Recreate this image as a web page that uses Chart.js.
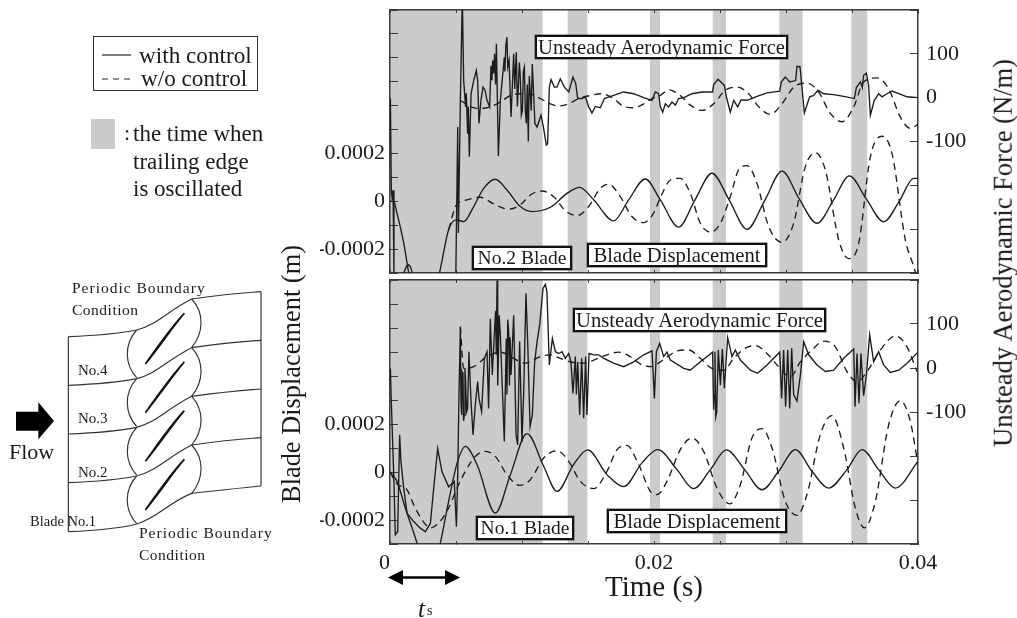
<!DOCTYPE html>
<html><head><meta charset="utf-8">
<script src="https://cdn.jsdelivr.net/npm/chart.js@4"></script>
<style>
html,body{margin:0;padding:0;background:#fff;overflow:hidden}
#page{position:relative;width:1017px;height:618px;font-family:"Liberation Serif",serif;color:#1a1a1a;filter:blur(0.35px)}
canvas{position:absolute}
.t{position:absolute;white-space:nowrap;line-height:1}
.box{position:absolute;box-sizing:border-box;background:#fff;border:2px solid #111;box-shadow:0 0 0 .5px #555;display:flex;align-items:center;justify-content:center;white-space:nowrap;font-size:20.7px;z-index:5}
.rot{position:absolute;white-space:nowrap;line-height:1;transform:translate(-50%,-50%) rotate(-90deg)}
svg{position:absolute}
</style></head><body>
<div id="page">
<canvas id="top" width="697" height="277" style="left:320px;top:0"></canvas>
<canvas id="bot" width="697" height="341" style="left:320px;top:277px"></canvas>

<div class="box" style="left:535px;top:35px;width:253px;height:24px">Unsteady Aerodynamic Force</div>
<div class="box" style="left:472px;top:246px;width:100px;height:24px;font-size:19.5px">No.2 Blade</div>
<div class="box" style="left:587px;top:243px;width:180px;height:24px">Blade Displacement</div>
<div class="box" style="left:573px;top:308px;width:253px;height:24px">Unsteady Aerodynamic Force</div>
<div class="box" style="left:476px;top:516px;width:98px;height:24px;font-size:19.5px">No.1 Blade</div>
<div class="box" style="left:607px;top:509px;width:180px;height:24px">Blade Displacement</div>

<div class="rot" style="left:291px;top:374px;font-size:26.4px">Blade Displacement (m)</div>
<div class="rot" style="left:1003px;top:253px;font-size:26.5px">Unsteady Aerodynamic Force (N/m)</div>
<div class="t" style="left:605px;top:572px;font-size:29px">Time (s)</div>

<div style="position:absolute;left:93px;top:36px;width:165px;height:55px;box-sizing:border-box;border:1.5px solid #333"></div>
<div class="t" style="left:139px;top:44px;font-size:23.2px">with control</div>
<div class="t" style="left:141px;top:67px;font-size:23.2px">w/o control</div>
<div style="position:absolute;left:91px;top:119px;width:24px;height:30px;background:#cbcbcb"></div>
<div class="t" style="left:124px;top:122px;font-size:22px">:</div>
<div class="t" style="left:133px;top:122px;font-size:23px">the time when</div>
<div class="t" style="left:133px;top:150px;font-size:23px">trailing edge</div>
<div class="t" style="left:133px;top:177px;font-size:23px">is oscillated</div>

<svg style="left:0;top:0" width="1017" height="618" viewBox="0 0 1017 618">
  <line x1="102" y1="55" x2="131" y2="55" stroke="#222" stroke-width="1.2"/>
  <line x1="102" y1="79" x2="131" y2="79" stroke="#222" stroke-width="1.2" stroke-dasharray="6 5"/>
  <line x1="396" y1="577.5" x2="452" y2="577.5" stroke="#000" stroke-width="2.5"/>
  <polygon points="388,577.5 403,570 403,585" fill="#000"/>
  <polygon points="460,577.5 445,570 445,585" fill="#000"/>
</svg>
<div class="t" style="left:418px;top:596px;font-size:25px;font-style:italic">t</div>
<div class="t" style="left:427px;top:604px;font-size:14px">s</div>

<svg style="left:0;top:270px" width="290" height="310" viewBox="0 0 870 930">
  <defs>
    <g id="cell" fill="none" stroke="#333" stroke-width="3.5">
      <path d="M410,180 C370,225 375,285 410,323"/>
      <path d="M575,87 C615,130 610,190 575,233"/>
      <path d="M205,200 C280,197 360,190 410,180 C470,165 500,125 575,87 C640,78 710,70 783,65"/>
      <path d="M436,282 C470,235 510,175 553,130 C515,175 475,235 436,282 Z" fill="#111" stroke="#111" stroke-width="5"/>
    </g>
  </defs>
  <use href="#cell"/><use href="#cell" y="146"/><use href="#cell" y="292"/><use href="#cell" y="438"/>
  <path d="M205,785 C280,782 360,775 410,762 C470,745 510,695 575,670 C640,663 710,655 783,648" fill="none" stroke="#333" stroke-width="3.5"/>
  <path d="M205,200 L205,785 M783,65 L783,648" fill="none" stroke="#333" stroke-width="3.5"/>
  <polygon points="48,425 115,425 115,397 162,453 115,508 115,482 48,482" fill="#000"/>
</svg>
<div class="t" style="left:9px;top:441px;font-size:22px">Flow</div>
<div class="t" style="left:78px;top:363px;font-size:15px">No.4</div>
<div class="t" style="left:78px;top:411px;font-size:15px">No.3</div>
<div class="t" style="left:78px;top:465px;font-size:15px">No.2</div>
<div class="t" style="left:30px;top:514px;font-size:14.5px">Blade No.1</div>
<div class="t" style="left:72px;top:280px;font-size:15.5px;letter-spacing:1px">Periodic Boundary</div>
<div class="t" style="left:72px;top:302px;font-size:15.5px;letter-spacing:.5px">Condition</div>
<div class="t" style="left:139px;top:525px;font-size:15.5px;letter-spacing:1px">Periodic Boundary</div>
<div class="t" style="left:139px;top:547px;font-size:15.5px;letter-spacing:.5px">Condition</div>
</div>
<script>
// time in ms, displacement in 1e-4 m, force in N/m
const bandStarts = [0, 13.46, 19.7, 24.45, 29.5, 34.95];
const bandEnds = [11.56, 14.95, 20.45, 25.45, 31.26, 36.16];
const topDispWith = [[0,0],[.28,-.01],[.53,-.5],[1.04,-1.75],[1.41,-2.97],[1.8,-4.1],[2.6,-4.6],[3.2,-4.1],[3.76,-2.97],[4.44,-1.19],[5.03,-.78],[5.58,-.85],[6.34,-.22],[7.1,.54],[7.98,.92],[8.86,.47],[9.87,-.22],[10.76,-.43],[12.15,-.25],[13.41,.33],[14.37,.58],[15.43,.06],[16.94,-.82],[18.08,.06],[19.34,.93],[20.48,.06],[21.87,-1.08],[23.1,.05],[24.39,1.17],[25.7,.05],[27.05,-1.17],[28.4,.05],[29.7,1.26],[31,.1],[32.35,-.92],[33.6,.05],[34.8,1.06],[36.1,.08],[37.4,-.86],[38.6,.02],[39.67,.96],[40,.96]];
const topDispWo = [[4.44,-1.19],[5.03,-.15],[5.83,.06],[6.84,.17],[7.85,-.11],[8.99,-.33],[9.87,-.15],[10.63,.26],[11.52,.43],[12.4,.19],[13.28,-.39],[14.17,-.6],[15.05,-.22],[15.93,.54],[16.57,.71],[17.45,.19],[18.33,-.64],[19.22,-.89],[19.97,-.5],[20.48,.15],[21.24,.89],[21.99,.96],[22.75,.33],[23.51,-.92],[24.27,-1.29],[25.03,-.92],[25.78,.19],[26.41,1.31],[27.05,1.49],[27.8,.75],[28.69,-1.06],[29.7,-1.72],[30.58,-.92],[31.46,1.44],[32.22,2.03],[32.98,1.31],[33.99,-1.61],[34.75,-2.4],[35.51,-1.75],[36.39,1.86],[37.27,2.72],[38.03,2],[39.04,-1.61],[39.8,-2.97],[40,-3.5]];
const topForceWith = [[.03,-2],[.1,-211],[.18,-234],[.23,-211],[.3,-400],[.6,-450],[1.09,-396],[1.24,-385],[1.39,-381],[1.54,-385],[1.67,-398],[1.8,-445],[4.97,-445],[5.13,-67],[5.18,-309],[5.33,-6],[5.48,229],[5.58,39],[5.73,-21],[5.78,10],[5.88,-82],[5.93,-20],[6.01,-135],[6.14,9],[6.34,39],[6.54,62],[6.64,39],[6.74,-59],[6.89,-6],[7.05,24],[7.2,17],[7.35,-6],[7.55,-21],[7.65,73],[7.72,40],[7.78,85],[7.85,55],[7.92,100],[8,30],[8.06,123],[8.21,-133],[8.36,-6],[8.66,92],[8.7,60],[8.78,120],[8.86,138],[8.92,70],[9.02,85],[9.17,-44],[9.37,100],[9.45,20],[9.57,104],[9.65,-20],[9.72,24],[9.8,80],[9.87,47],[9.95,-40],[10.03,-29],[10.1,60],[10.18,70],[10.25,-30],[10.33,-59],[10.4,30],[10.48,-100],[10.55,50],[10.63,9],[10.7,-30],[10.78,77],[10.98,-59],[11.14,-67],[11.44,-40],[11.64,-70],[11.84,-108],[11.94,-105],[12.07,24],[12.2,41],[12.45,24],[12.65,24],[12.9,43],[13.21,24],[13.54,13],[13.86,47],[14.07,32],[14.22,-2],[14.55,-2],[14.8,2],[15.05,-21],[15.3,-35],[15.56,-20],[15.93,-23],[16.24,-2],[16.94,5],[17.7,13],[18.46,9],[19.22,0],[19.85,-6],[20.1,13],[20.35,9],[20.48,-21],[20.66,-33],[20.86,-14],[21.11,-21],[21.36,-10],[21.62,-17],[21.87,-2],[22.25,0],[22.88,9],[23.64,13],[24.44,13],[24.52,30],[24.85,42],[25.33,28],[25.48,2],[25.78,-33],[26.04,-6],[26.34,-21],[26.59,-5],[27.05,-6],[27.8,3],[28.56,11],[29.52,15],[29.65,36],[29.95,47],[30.28,36],[30.73,39],[30.83,71],[31.06,71],[31.39,-35],[31.79,2],[32.1,5],[32.42,17],[32.85,9],[33.61,7],[34.37,3],[35.18,-2],[35.33,23],[35.63,36],[35.78,23],[35.88,51],[36.09,56],[36.26,28],[36.39,-40],[36.69,-6],[37.02,9],[37.27,2],[37.65,9],[38.03,15],[38.54,9],[39.17,2],[40,0]];
const topForceWo = [[5.33,-6],[6.09,-20],[6.84,-25],[7.6,-21],[8.36,-10],[9.12,5],[9.87,9],[10.63,8],[11.39,-2],[12.15,-14],[12.78,-19],[13.54,-14],[14.29,-2],[15.18,5],[16.06,9],[16.94,-2],[17.7,-20],[18.46,-23],[19.22,-14],[19.85,-2],[20.48,5],[21.11,18],[21.99,5],[22.75,-17],[23.64,-29],[24.52,-14],[25.4,17],[26.29,24],[27.17,9],[27.93,-21],[28.81,-38],[29.7,-14],[30.58,24],[31.59,33],[32.47,13],[33.36,-36],[34.24,-55],[35.13,-21],[35.88,36],[36.89,45],[37.78,20],[38.66,-44],[39.42,-70],[40,-61]];
const botDispWith = [[0,0],[.53,-.39],[1.16,-1.5],[2.05,-2.97],[2.55,-4],[3.31,-4],[3.81,-2.97],[4.44,-1.22],[5.1,.4],[5.71,1.07],[6.59,.31],[7.98,-1.71],[9.12,-.11],[10.38,1.6],[11.64,.24],[12.65,-.81],[13.91,.31],[14.97,.92],[16.44,-.11],[17.7,-.61],[19.09,.38],[20.3,.93],[21.74,.1],[23,-.69],[24.27,.1],[25.48,.92],[26.87,.1],[28.18,-.74],[29.44,.03],[30.71,.93],[31.97,.03],[33.23,-.67],[34.62,.1],[35.76,.93],[37.02,.1],[38.28,-.67],[40,.44]];
const botDispWo = [[0,0],[.53,-.49],[1.29,-.74],[1.79,-1.36],[2.42,-1.99],[3.06,-2.33],[3.69,-2.13],[4.44,-1.5],[5.08,-.67],[5.71,.03],[6.46,.65],[7.22,.86],[7.98,.65],[8.86,-.11],[9.82,-.56],[10.63,-.32],[11.64,.58],[12.65,.89],[13.54,.44],[14.42,-.39],[15.43,-.69],[16.44,.03],[17.2,.93],[17.95,1.11],[18.84,.31],[19.72,-.81],[20.23,-.94],[20.98,-.39],[21.99,.93],[22.88,1.42],[23.76,.86],[24.77,-.67],[25.73,-1.33],[26.54,-.53],[27.42,1.42],[28.18,1.81],[28.94,1],[29.95,-1.22],[30.83,-1.81],[31.59,-.94],[32.6,1.56],[33.48,2.35],[34.37,1],[35.25,-1.5],[35.93,-2.33],[36.77,-1.22],[37.78,1.97],[38.66,2.97],[39.42,2.11],[40,.31]];
const botForceWith = [[.03,-1],[.1,-77],[.3,-260],[.4,-379],[.58,-372],[.73,-152],[.83,-213],[1.04,-273],[1.29,-330],[1.79,-349],[2.3,-364],[2.68,-372],[3.06,-353],[3.31,-273],[3.61,-183],[3.94,-236],[4.44,-270],[4.87,-258],[5.03,-361],[5.13,-243],[5.23,-54],[5.33,94],[5.38,-80],[5.43,-107],[5.47,-10],[5.53,-16],[5.57,-120],[5.63,-107],[5.68,0],[5.73,-31],[5.8,-100],[5.88,-92],[5.98,37],[6.14,-77],[6.29,-152],[6.46,-84],[6.64,-31],[6.74,-69],[6.94,-99],[7.15,22],[7.35,37],[7.47,-92],[7.6,112],[7.75,-16],[7.9,75],[8,130],[8.05,30],[8.11,199],[8.16,-40],[8.21,22],[8.27,120],[8.36,75],[8.51,-46],[8.66,-167],[8.81,67],[8.86,-60],[8.92,110],[8.99,83],[9.05,-40],[9.1,70],[9.17,-16],[9.37,120],[9.55,-152],[9.67,-175],[9.82,60],[10,-167],[10.13,-54],[10.3,170],[10.43,60],[10.61,-133],[10.78,-107],[10.96,14],[11.14,60],[11.34,98],[11.59,181],[11.77,190],[11.89,173],[12.07,7],[12.3,67],[12.53,37],[12.78,33],[13.03,37],[13.28,22],[13.54,33],[13.71,14],[13.86,-58],[14.04,26],[14.12,-60],[14.22,14],[14.37,-107],[14.52,22],[14.67,-114],[14.82,26],[14.92,-107],[15.08,33],[15.43,30],[15.81,30],[16.19,22],[16.94,11],[17.7,3],[18.46,14],[19.22,30],[19.85,39],[20.03,-69],[20.18,37],[20.43,56],[20.73,26],[20.98,36],[21.24,18],[21.62,11],[22.25,-1],[22.75,-5],[23.51,14],[24.44,36],[24.52,-95],[24.58,-60],[24.62,37],[24.68,-110],[24.75,-99],[24.87,41],[25.03,-39],[25.18,43],[25.33,-46],[25.58,69],[25.91,26],[26.16,41],[26.54,18],[27.3,-5],[27.85,-12],[28.56,7],[29.52,36],[29.67,-69],[29.82,41],[29.97,-88],[30.13,41],[30.28,-92],[30.43,45],[30.58,-61],[30.83,-75],[31.09,-16],[31.34,60],[31.72,30],[32.35,7],[32.98,-8],[33.61,-5],[34.37,22],[35.13,43],[35.23,-88],[35.38,33],[35.53,-80],[35.68,33],[35.88,-63],[36.09,-16],[36.34,75],[36.64,14],[37.02,37],[37.4,7],[37.9,-10],[38.54,-5],[39.17,11],[40,36]];
const botForceWo = [[5.33,94],[5.58,-1],[6.34,3],[7.35,26],[8.36,36],[9.37,22],[10.13,11],[10.5,13],[11.39,26],[12.15,30],[12.9,22],[13.79,13],[14.67,11],[15.43,18],[16.44,30],[17.32,36],[18.2,26],[19.09,7],[19.85,3],[20.48,14],[21.24,30],[21.74,39],[22.63,41],[23.51,22],[24.39,-1],[25.28,-5],[26.04,22],[26.92,45],[27.68,51],[28.56,33],[29.44,3],[30.33,-20],[31.09,14],[31.97,41],[32.85,61],[33.74,48],[34.62,-8],[35.38,-31],[36.14,-8],[37.15,41],[38.28,73],[39.17,48],[39.92,-8]];
const xTickLabels = {0:'0\u2002',4:'0.02',8:'0.04'};
const leftTickLabels = {'-2':'-0.0002',0:'0',2:'0.0002'};
const rightTickLabels = {'-100':'-100',0:'0',100:'100'};

const axisColor = '#3c3c3c', lineColor = '#1c1c1c';
const tickFont = {family:'"Liberation Serif"', size:22};

const bandsPlugin = {
  id:'bands',
  beforeDraw(chart){
    const {ctx,chartArea:a,scales:{x}} = chart;
    ctx.save(); ctx.fillStyle='#cbcbcb';
    bandStarts.forEach((s,i)=>{
      const l=x.getPixelForValue(s/1000), r=x.getPixelForValue(bandEnds[i]/1000);
      ctx.fillRect(l,a.top,r-l,a.bottom-a.top);
    });
    ctx.restore();
  }
};
function lineSet(pairs,factor,axis,dashed,smooth){
  return {
    data:pairs.map(p=>({x:p[0]/1000,y:p[1]*factor})),
    yAxisID:axis, borderColor:lineColor, borderWidth:1.35, pointRadius:0,
    borderDash:dashed?[7,5]:[], cubicInterpolationMode:smooth?'monotone':'default', tension:0, fill:false, parsing:false
  };
}
function noPad(s){s.paddingTop=0;s.paddingBottom=0;s.paddingLeft=0;s.paddingRight=0;}
function panel(id,sets,showX,x2h,xh){
  return new Chart(document.getElementById(id),{
    type:'line',
    data:{datasets:sets},
    plugins:[bandsPlugin],
    options:{
      responsive:false, animation:false, normalized:true,
      layout:{padding:0},
      plugins:{legend:{display:false},tooltip:{enabled:false}},
      scales:{
        x:{type:'linear',position:'bottom',min:0,max:.04,
          afterFit(s){s.height=xh;noPad(s);},
          border:{color:axisColor,width:1.5},
          grid:{drawOnChartArea:false,tickLength:-3,tickColor:axisColor,tickWidth:1},
          ticks:{display:showX,stepSize:.005,autoSkip:false,maxRotation:0,padding:9,color:'#1a1a1a',font:tickFont,
            callback:v=>xTickLabels[Math.round(v/.005)]??''}},
        x2:{type:'linear',position:'top',axis:'x',min:0,max:.04,
          afterFit(s){s.height=x2h;noPad(s);},
          border:{color:axisColor,width:1.5},
          grid:{drawOnChartArea:false,tickLength:-3,tickColor:axisColor,tickWidth:1},
          ticks:{display:false,stepSize:.005}},
        y:{type:'linear',position:'left',min:-3e-4,max:8e-4,
          afterFit(s){s.width=70;noPad(s);},
          border:{color:axisColor,width:1.5},
          grid:{drawOnChartArea:false,tickLength:-8,tickColor:axisColor,tickWidth:1},
          ticks:{stepSize:1e-4,autoSkip:false,padding:13,color:'#1a1a1a',font:tickFont,
            callback:v=>leftTickLabels[Math.round(v*1e4)]??''}},
        yF:{type:'linear',position:'right',min:-400,max:200,
          afterFit(s){s.width=99;noPad(s);},
          border:{color:axisColor,width:1.5},
          grid:{drawOnChartArea:false,tickLength:-8,tickColor:axisColor,tickWidth:1},
          ticks:{stepSize:100,autoSkip:false,padding:16,color:'#1a1a1a',font:tickFont,
            callback:v=>rightTickLabels[Math.round(v)]??''}}
      }
    }
  });
}
panel('top',[
  lineSet(topForceWith,1,'yF',false,false),
  lineSet(topForceWo,1,'yF',true,true),
  lineSet(topDispWith,1e-4,'y',false,true),
  lineSet(topDispWo,1e-4,'y',true,true)
],false,10,4);
panel('bot',[
  lineSet(botForceWith,1,'yF',false,false),
  lineSet(botForceWo,1,'yF',true,true),
  lineSet(botDispWith,1e-4,'y',false,true),
  lineSet(botDispWo,1e-4,'y',true,true)
],true,3,74);
</script>
</body></html>
